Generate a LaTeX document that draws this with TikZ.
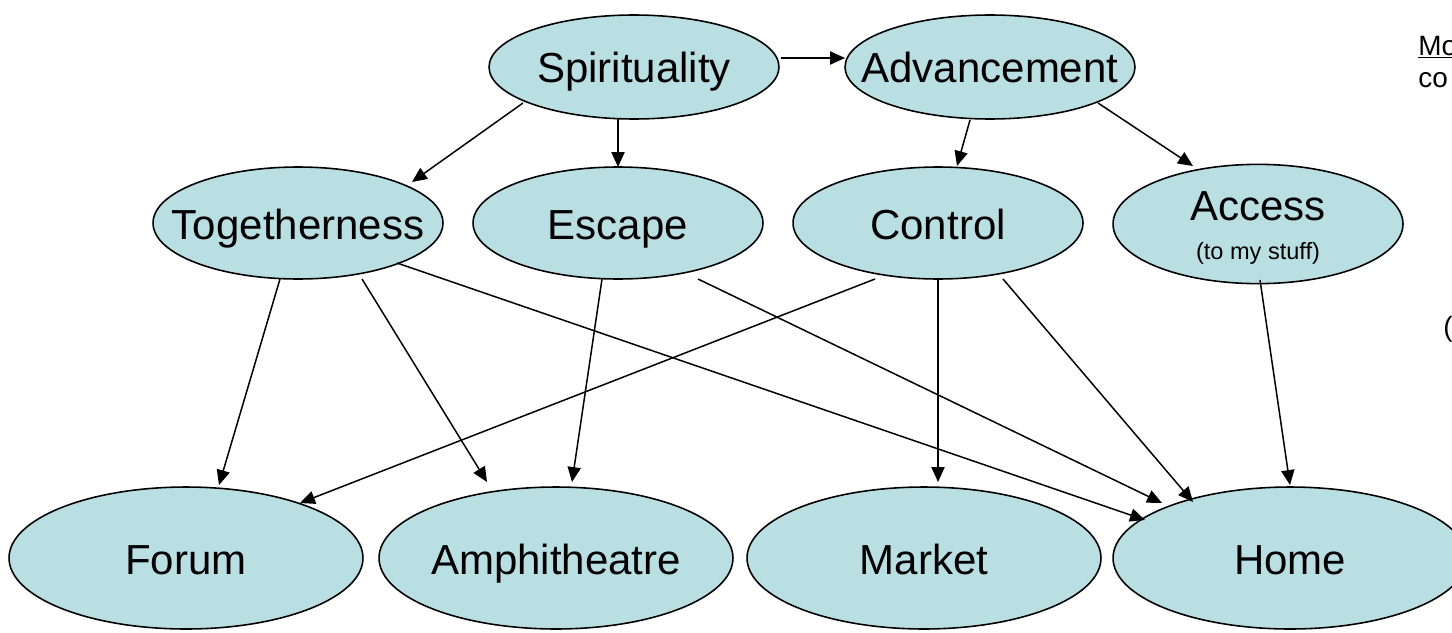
\documentclass[tikz,border=0pt]{standalone}
\usepackage{fontspec}
\setmainfont{Liberation Sans}
\usetikzlibrary{shapes.geometric,arrows.meta,calc}
\definecolor{ovalfill}{RGB}{185,223,227}
\begin{document}
\begin{tikzpicture}[x=0.02cm,y=-0.02cm,
  oval/.style={ellipse,draw=black,line width=0.9pt,fill=ovalfill,
    inner xsep=-1.2cm,inner ysep=0pt,text height=0.84cm,text depth=0.2cm,
    font=\fontsize{23.9}{26}\selectfont},
  small/.style={oval,minimum width=5.8cm,minimum height=2.16cm},
  big/.style={oval,minimum width=7.08cm,minimum height=2.84cm},
  arr/.style={-{Triangle[length=8.5pt,width=7.5pt]},line width=0.85pt},
  side/.style={font=\fontsize{15.9}{18}\selectfont,inner sep=0pt,anchor=base west}]
\useasboundingbox (0,0) rectangle (1452,632);
\clip (0,0) rectangle (1452,632);
\node[small,minimum height=2.08cm] (spir) at (634,67) {Spirituality};
\node[small,minimum height=2.08cm] (adv) at (990,67) {Advancement};
\node[small,minimum height=2.24cm] (tog) at (298,223) {Togetherness};
\node[small,minimum height=2.24cm] (esc) at (618,223) {Escape};
\node[small,minimum height=2.24cm] (ctrl) at (938,223) {Control};
\node[small,minimum height=2.2cm,text height=,text depth=] (acc) at (1258,224)
  {\raisebox{-0.14cm}[\height][\depth]{\begin{tabular}{@{}c@{}}Access\\[-4pt]{\fontsize{13.4}{15}\selectfont (to my stuff)}\end{tabular}}};
\node[big] (forum) at (186,558) {Forum};
\node[big] (amph) at (556,558) {Amphitheatre};
\node[big] (mkt) at (924,558) {Market};
\node[big] (home) at (1290,558) {Home};
\node[side] (mo) at (1418,55) {\underline{Mo}};
\node[side] (co) at (1418,87) {co};
\node[side] (paren) at (1443,336) {(};
\draw[arr] ($(spir)+(147,-9)$) -- ($(adv)+(-145,-9)$);
\draw[arr] ($(spir)+(-111,36)$) -- ($(tog)+(114,-41)$);
\draw[arr] ($(spir)+(-16,52)$) -- ($(esc)+(0,-56)$);
\draw[arr] ($(adv)+(-20,53)$) -- ($(ctrl)+(19,-57)$);
\draw[arr] ($(adv)+(108,36)$) -- ($(acc)+(-65,-58)$);
\draw[arr] ($(tog)+(-18,56)$) -- ($(forum)+(33,-73)$);
\draw[arr] ($(tog)+(64,56)$) -- ($(amph)+(-69,-76)$);
\draw[arr] ($(tog)+(99,40)$) -- ($(home)+(-145,-38)$);
\draw[arr] ($(esc)+(-16,56)$) -- ($(amph)+(16,-76)$);
\draw[arr] ($(esc)+(80,56)$) -- ($(home)+(-128,-55)$);
\draw[arr] ($(ctrl)+(-63,56)$) -- ($(forum)+(114,-55)$);
\draw[arr] ($(ctrl)+(0,56)$) -- ($(mkt)+(14,-76)$);
\draw[arr] ($(ctrl)+(65,56)$) -- ($(home)+(-97,-56)$);
\draw[arr] ($(acc)+(2,56)$) -- ($(home)+(0,-73)$);
\end{tikzpicture}
\end{document}
